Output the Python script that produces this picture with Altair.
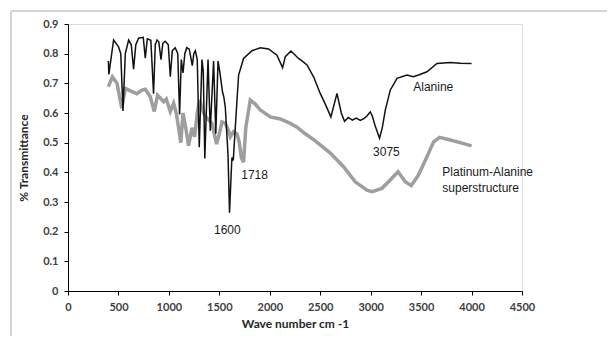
import altair as alt
import pandas as pd

# Alanine spectrum (black)
ala_wn = [400, 405, 452, 501, 523, 545, 568, 601, 627, 650, 672, 700, 746, 766, 786, 821, 848, 865,
          882, 900, 922, 940, 964, 994, 1014, 1034, 1063, 1088, 1106, 1123, 1140, 1158, 1177, 1202,
          1232, 1247, 1262, 1281, 1301, 1328, 1341, 1356, 1388, 1410, 1443, 1465, 1487, 1504, 1532,
          1544, 1559, 1586, 1601, 1618, 1625, 1638, 1667, 1691, 1740, 1824, 1906, 1988, 2071, 2127,
          2154, 2210, 2285, 2322, 2369, 2434, 2500, 2550, 2606, 2666, 2709, 2741, 2778, 2818, 2857,
          2897, 2936, 2963, 2996, 3016, 3046, 3088, 3115, 3145, 3194, 3261, 3360, 3422, 3475, 3558,
          3657, 3789, 3888, 4000]
ala_t = [0.775, 0.73, 0.846, 0.823, 0.80, 0.607, 0.80, 0.846, 0.83, 0.748, 0.83, 0.852, 0.855, 0.785,
         0.85, 0.845, 0.665, 0.83, 0.846, 0.84, 0.78, 0.835, 0.842, 0.83, 0.722, 0.81, 0.82, 0.80,
         0.595, 0.78, 0.735, 0.80, 0.82, 0.815, 0.76, 0.80, 0.81, 0.78, 0.485, 0.78, 0.74, 0.447,
         0.78, 0.54, 0.775, 0.53, 0.775, 0.74, 0.67, 0.655, 0.62, 0.46, 0.264, 0.40, 0.45, 0.44,
         0.60, 0.728, 0.784, 0.81, 0.82, 0.816, 0.795, 0.753, 0.79, 0.809, 0.784, 0.775, 0.762,
         0.722, 0.666, 0.63, 0.587, 0.666, 0.60, 0.572, 0.585, 0.576, 0.583, 0.575, 0.582, 0.59,
         0.604, 0.59, 0.555, 0.515, 0.55, 0.61, 0.677, 0.717, 0.728, 0.722, 0.728, 0.739, 0.767,
         0.77, 0.768, 0.767]

# Platinum-Alanine superstructure spectrum (gray)
pt_wn = [400, 440, 486, 508, 533, 568, 634, 684, 733, 766, 816, 855, 888, 915, 947, 974, 1014, 1047,
         1073, 1096, 1118, 1140, 1167, 1195, 1229, 1255, 1281, 1304, 1344, 1378, 1427, 1450, 1473,
         1500, 1526, 1559, 1592, 1609, 1641, 1675, 1698, 1718, 1740, 1762, 1807, 1856, 1906, 2005,
         2104, 2203, 2270, 2352, 2434, 2510, 2600, 2731, 2847, 2963, 3013, 3112, 3194, 3271, 3343,
         3402, 3472, 3541, 3624, 3683, 3789, 3888, 4000]
pt_t = [0.689, 0.722, 0.70, 0.66, 0.616, 0.683, 0.672, 0.665, 0.677, 0.68, 0.655, 0.605, 0.66, 0.65,
        0.638, 0.647, 0.605, 0.633, 0.60, 0.55, 0.50, 0.60, 0.55, 0.49, 0.55, 0.52, 0.60, 0.644,
        0.599, 0.582, 0.565, 0.53, 0.495, 0.53, 0.57, 0.565, 0.54, 0.52, 0.537, 0.53, 0.50, 0.45,
        0.434, 0.55, 0.644, 0.63, 0.61, 0.587, 0.58, 0.565, 0.552, 0.53, 0.51, 0.49, 0.465, 0.419,
        0.368, 0.34, 0.335, 0.346, 0.374, 0.402, 0.368, 0.355, 0.39, 0.44, 0.503, 0.518, 0.509,
        0.50, 0.489]

# Annotations
ann_text = ["Alanine", "3075", "Platinum-Alanine", "superstructure", "1718", "1600"]
ann_x = [3422, 3156, 3710, 3710, 1717, 1579]
ann_y = [0.688, 0.468, 0.401, 0.347, 0.391, 0.206]
ann_align = ["left", "center", "left", "left", "left", "center"]

x_ticks = [0, 500, 1000, 1500, 2000, 2500, 3000, 3500, 4000, 4500]
y_ticks = [0, 0.1, 0.2, 0.3, 0.4, 0.5, 0.6, 0.7, 0.8, 0.9]

ala_df = pd.DataFrame({"wn": ala_wn, "t": ala_t})
pt_df = pd.DataFrame({"wn": pt_wn, "t": pt_t})
ann_df = pd.DataFrame({"label": ann_text, "wn": ann_x, "t": ann_y, "al": ann_align})

x_scale = alt.Scale(domain=[0, 4500], nice=False)
y_scale = alt.Scale(domain=[0, 0.9], nice=False)

common_axis = dict(grid=False, domainColor="#000000", tickColor="#000000", tickSize=4,
                   labelFont="Lato", labelFontWeight="bold", labelFontSize=11,
                   labelColor="#404040", labelOverlap=False, labelFlush=False,
                   titleFont="Lato", titleFontWeight="bold", titleFontSize=12,
                   titleColor="#262626")

x_enc = alt.X("wn:Q", scale=x_scale,
              axis=alt.Axis(title="Wave number cm -1", values=x_ticks, format="d",
                            labelPadding=6, titlePadding=6, **common_axis))
y_enc = alt.Y("t:Q", scale=y_scale,
              axis=alt.Axis(title="% Transmittance", values=y_ticks, tickCount=10,
                            labelExpr="datum.value == 0 ? '0' : format(datum.value, '.1f')",
                            labelPadding=6, titlePadding=12, **common_axis))

pt_line = alt.Chart(pt_df).mark_line(color="#9e9e9e", strokeWidth=3.5, clip=True).encode(
    x=x_enc, y=y_enc, order="wn:Q")
ala_line = alt.Chart(ala_df).mark_line(color="#111111", strokeWidth=1.5, clip=True).encode(
    x=x_enc, y=y_enc, order="wn:Q")

texts = []
for al in ["left", "center"]:
    texts.append(
        alt.Chart(ann_df[ann_df["al"] == al]).mark_text(
            align=al, baseline="middle", font="Liberation Sans", fontSize=12, color="#1a1a1a"
        ).encode(x=x_enc, y=y_enc, text="label:N")
    )

frame_top = alt.Chart(ala_df).mark_rule(color="#d4d4d4", strokeWidth=2).encode(
    x=alt.value(-57), x2=alt.value(560), y=alt.value(-13))
frame_left = alt.Chart(ala_df).mark_rule(color="#d4d4d4", strokeWidth=2).encode(
    x=alt.value(-57), y=alt.value(-13), y2=alt.value(330))

chart = alt.layer(pt_line, ala_line, *texts, frame_top, frame_left).properties(
    width=454, height=267,
    autosize=alt.AutoSizeParams(type="none"),
    padding={"left": 60, "top": 16, "right": 85, "bottom": 45},
).configure_view(stroke=None).configure(background="white")

chart.save("out.html", embed_options={"renderer": "svg", "actions": False})
